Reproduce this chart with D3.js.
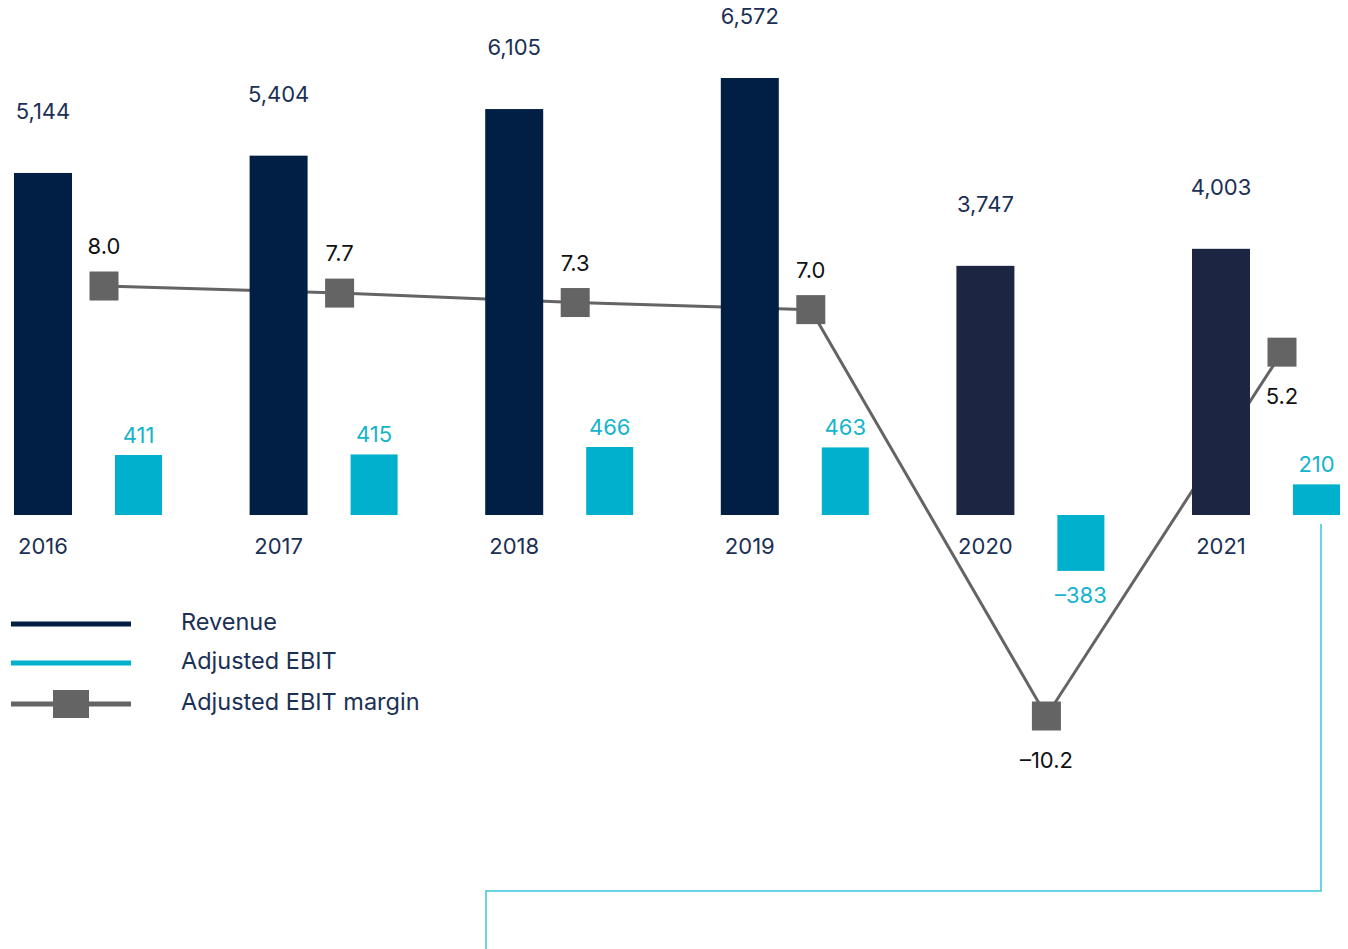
<html>
<head>
<meta charset="utf-8">
<title>revenue-ebit</title>
<script src="https://d3js.org/d3.v7.min.js"></script>
<style>
  body { margin: 0; background: #fff; }
  svg text { font-family: Inter, "Noto Sans", sans-serif; }
</style>
</head>
<body>
<script>
const years = ["2016", "2017", "2018", "2019", "2020", "2021"];
const revenue = [5144, 5404, 6105, 6572, 3747, 4003];
const adjustedEbit = [411, 415, 466, 463, -383, 210];
const ebitMargin = [8.0, 7.7, 7.3, 7.0, -10.2, 5.2];
const revenueLabels = ["5,144", "5,404", "6,105", "6,572", "3,747", "4,003"];
const ebitLabels = ["411", "415", "466", "463", "–383", "210"];
const marginLabels = ["8.0", "7.7", "7.3", "7.0", "–10.2", "5.2"];
const legendItems = ["Revenue", "Adjusted EBIT", "Adjusted EBIT margin"];

const w = 1348, h = 949;
const baseline = 515;
const navy = "#011f45", navy2 = "#1c2541", cyan = "#00b0cc", grey = "#646464";
const textNavy = "#1b3055";

const svg = d3.select("body").append("svg")
  .attr("width", w)
  .attr("height", h);

const x = d3.scaleBand()
  .domain(years)
  .range([14, 14 + 235.6 * years.length]);

const yRev = d3.scaleLinear().domain([0, 6572]).range([baseline, 78]);
const yEbit = d3.scaleLinear().domain([0, 466]).range([baseline, 447]);
const yMargin = d3.scaleLinear().domain([-10.2, 8.0]).range([716, 286]);

const revW = 58, ebitW = 47, markerOff = 90, ebitOff = 101;

// margin line first so the bars sit on top of it
const line = d3.line()
  .x((d, i) => x(years[i]) + markerOff)
  .y(d => yMargin(d));

svg.append("path")
  .datum(ebitMargin)
  .attr("d", line)
  .attr("fill", "none")
  .attr("stroke", grey)
  .attr("stroke-width", 3);

// revenue
svg.selectAll("rect.rev")
  .data(revenue)
  .enter()
  .append("rect")
  .attr("class", "rev")
  .attr("x", (d, i) => x(years[i]))
  .attr("y", d => yRev(d))
  .attr("width", revW)
  .attr("height", d => baseline - yRev(d))
  .attr("fill", (d, i) => i >= 4 ? navy2 : navy);

svg.selectAll("text.rev")
  .data(revenue)
  .enter()
  .append("text")
  .attr("class", "rev")
  .attr("x", (d, i) => x(years[i]) + revW / 2)
  .attr("y", d => yRev(d) - 54)
  .attr("text-anchor", "middle")
  .attr("font-size", 22)
  .attr("fill", textNavy)
  .text((d, i) => revenueLabels[i]);

// adjusted EBIT
svg.selectAll("rect.ebit")
  .data(adjustedEbit)
  .enter()
  .append("rect")
  .attr("class", "ebit")
  .attr("x", (d, i) => x(years[i]) + ebitOff)
  .attr("y", d => Math.min(yEbit(d), baseline))
  .attr("width", ebitW)
  .attr("height", d => Math.abs(baseline - yEbit(d)))
  .attr("fill", cyan);

svg.selectAll("text.ebit")
  .data(adjustedEbit)
  .enter()
  .append("text")
  .attr("class", "ebit")
  .attr("x", (d, i) => x(years[i]) + ebitOff + ebitW / 2)
  .attr("y", d => d >= 0 ? yEbit(d) - 12 : yEbit(d) + 32)
  .attr("text-anchor", "middle")
  .attr("font-size", 22)
  .attr("fill", "#14b3ce")
  .text((d, i) => ebitLabels[i]);

// margin markers
svg.selectAll("rect.marker")
  .data(ebitMargin)
  .enter()
  .append("rect")
  .attr("class", "marker")
  .attr("x", (d, i) => x(years[i]) + markerOff - 14.5)
  .attr("y", d => yMargin(d) - 14.5)
  .attr("width", 29)
  .attr("height", 29)
  .attr("fill", grey);

svg.selectAll("text.margin")
  .data(ebitMargin)
  .enter()
  .append("text")
  .attr("class", "margin")
  .attr("x", (d, i) => x(years[i]) + markerOff)
  .attr("y", (d, i) => (d < 0 || i === 5) ? yMargin(d) + 52 : yMargin(d) - 32)
  .attr("text-anchor", "middle")
  .attr("font-size", 22)
  .attr("fill", "#111")
  .text((d, i) => marginLabels[i]);

// years
svg.selectAll("text.year")
  .data(years)
  .enter()
  .append("text")
  .attr("class", "year")
  .attr("x", d => x(d) + revW / 2)
  .attr("y", 554)
  .attr("text-anchor", "middle")
  .attr("font-size", 22)
  .attr("fill", textNavy)
  .text(d => d);

// legend
const legend = svg.append("g").attr("transform", "translate(11,0)");
const legendY = [624, 663, 704];
const legendColors = [navy, cyan, grey];

legend.selectAll("line")
  .data(legendItems)
  .enter()
  .append("line")
  .attr("x1", 0)
  .attr("x2", 120)
  .attr("y1", (d, i) => legendY[i])
  .attr("y2", (d, i) => legendY[i])
  .attr("stroke", (d, i) => legendColors[i])
  .attr("stroke-width", 5);

legend.append("rect")
  .attr("x", 42)
  .attr("y", legendY[2] - 14)
  .attr("width", 36)
  .attr("height", 28)
  .attr("fill", grey);

legend.selectAll("text")
  .data(legendItems)
  .enter()
  .append("text")
  .attr("x", 170)
  .attr("y", (d, i) => legendY[i] + 6)
  .attr("font-size", 23.5)
  .attr("fill", textNavy)
  .text(d => d);

// connector from the 2021 EBIT bar
const lastX = x(years[5]) + ebitOff + 28;
svg.append("path")
  .attr("d", d3.line()([[lastX, 524], [lastX, 891], [486, 891], [486, h]]))
  .attr("fill", "none")
  .attr("stroke", "#3cc3dd")
  .attr("stroke-width", 1.5);
</script>
</body>
</html>
